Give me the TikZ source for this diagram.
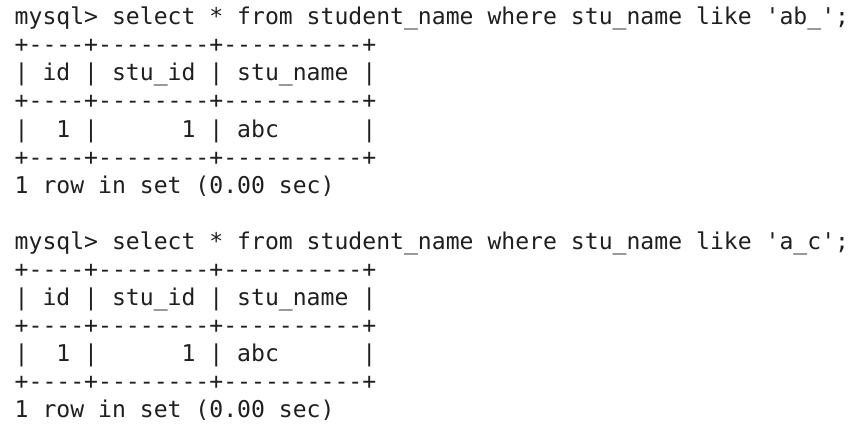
\documentclass[tikz,border=0pt]{standalone}
\usepackage{fontspec}
\newfontfamily\termfont{DejaVu Sans Mono}
\begin{document}
\begin{tikzpicture}[x=1pt,y=1pt,
	line/.style={anchor=base west,inner sep=0pt,text=black!88,font=\termfont\fontsize{23.1}{28}\selectfont}]
	\useasboundingbox (0,0) rectangle (868,-428);
	% first query
	\node[line] (Q1) at (14.5,-25) {mysql>~select~*~from~student\_name~where~stu\_name~like~'ab\_';};
	\node[line] (T1a) at (14.5,-53) {+----+--------+----------+};
	\node[line] (H1) at (14.5,-81) {|~id~|~stu\_id~|~stu\_name~|};
	\node[line] (T1b) at (14.5,-109) {+----+--------+----------+};
	\node[line] (D1) at (14.5,-137) {|~~1~|~~~~~~1~|~abc~~~~~~|};
	\node[line] (T1c) at (14.5,-165) {+----+--------+----------+};
	\node[line] (S1) at (14.5,-193) {1~row~in~set~(0.00~sec)};
	% second query
	\node[line] (Q2) at (14.5,-249) {mysql>~select~*~from~student\_name~where~stu\_name~like~'a\_c';};
	\node[line] (T2a) at (14.5,-277) {+----+--------+----------+};
	\node[line] (H2) at (14.5,-305) {|~id~|~stu\_id~|~stu\_name~|};
	\node[line] (T2b) at (14.5,-333) {+----+--------+----------+};
	\node[line] (D2) at (14.5,-361) {|~~1~|~~~~~~1~|~abc~~~~~~|};
	\node[line] (T2c) at (14.5,-389) {+----+--------+----------+};
	\node[line] (S2) at (14.5,-417) {1~row~in~set~(0.00~sec)};
\end{tikzpicture}
\end{document}
